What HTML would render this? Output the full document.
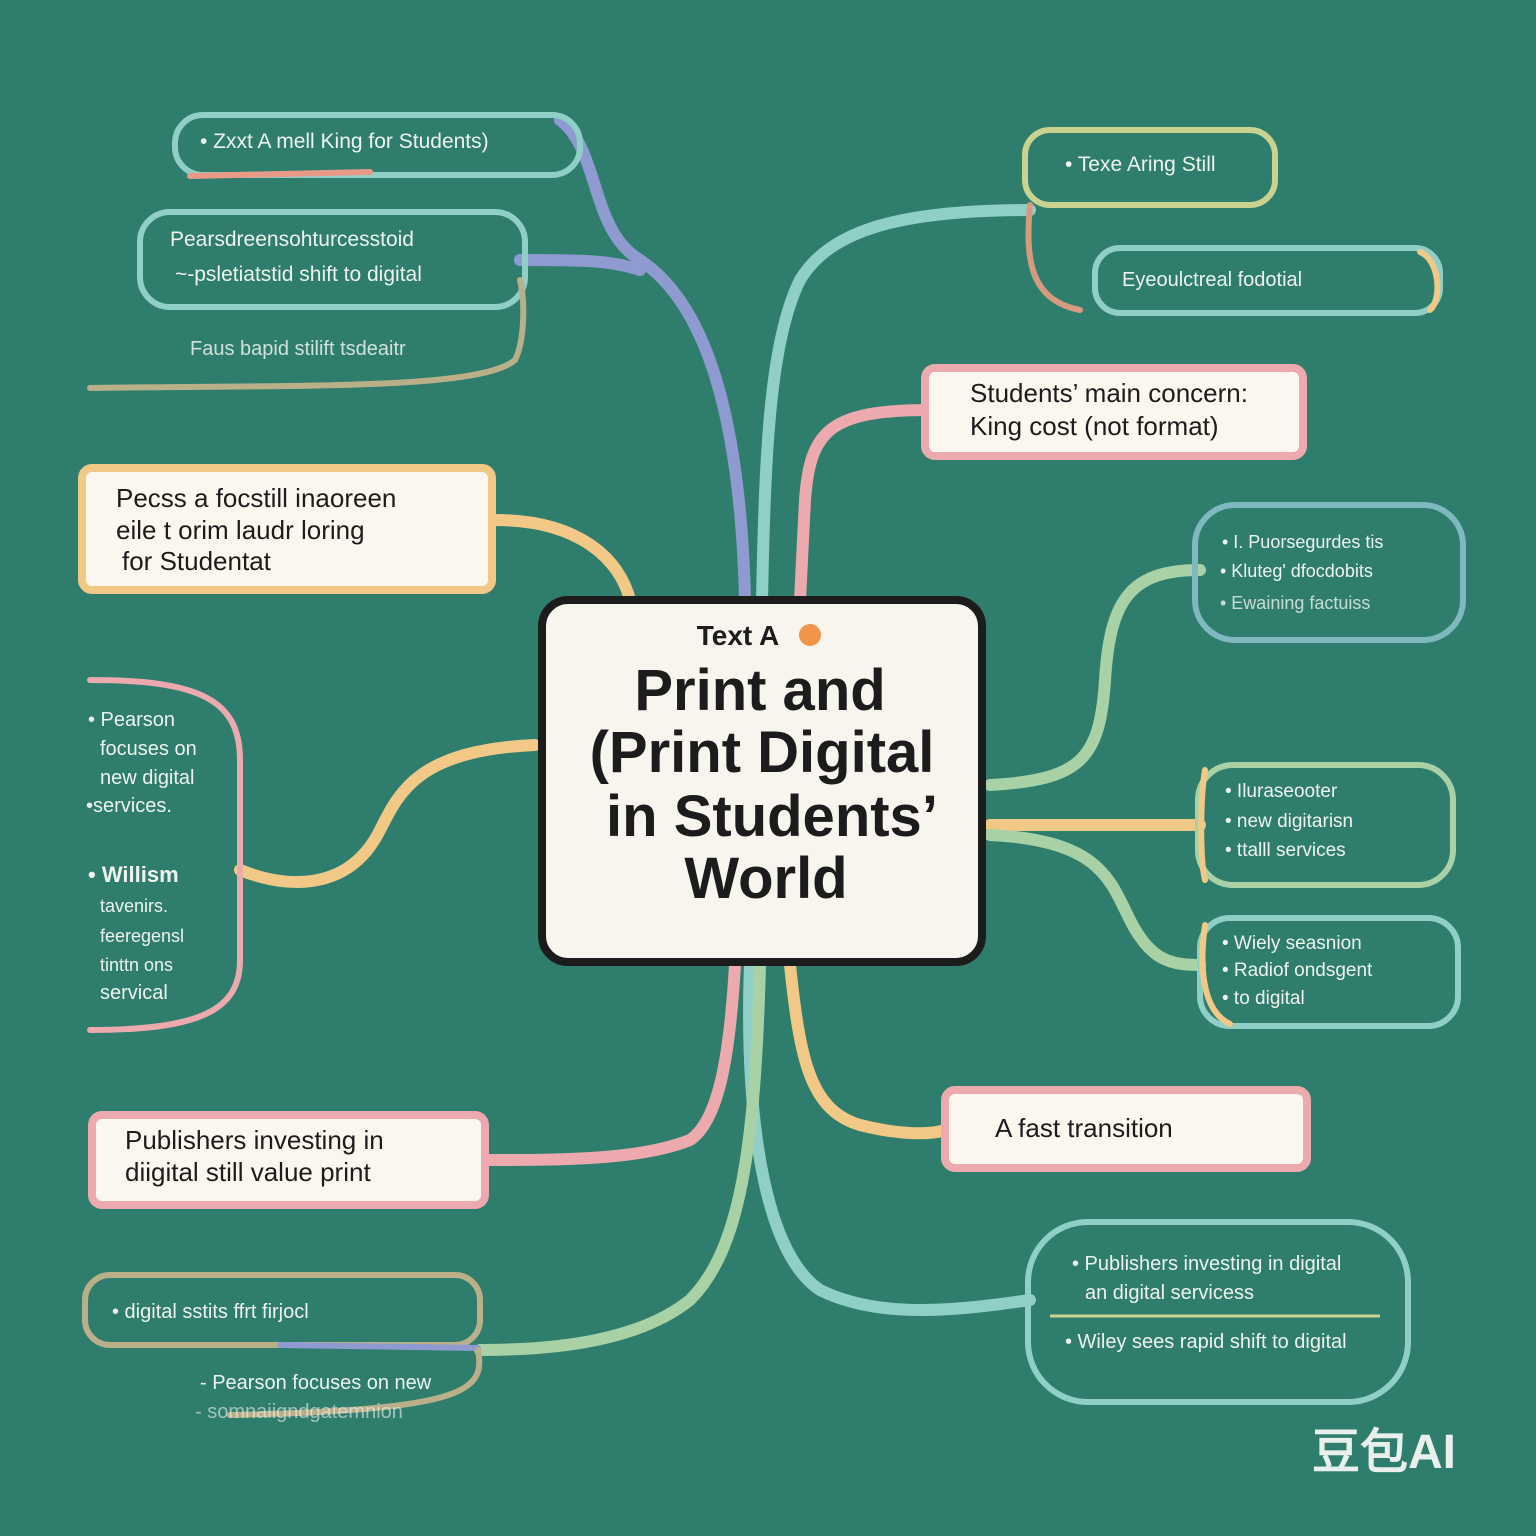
<!DOCTYPE html>
<html><head><meta charset="utf-8"><style>
html,body{margin:0;padding:0;background:#2e7d6d;}
svg{display:block}
text{font-family:"Liberation Sans",sans-serif;}
</style></head><body>
<svg width="1536" height="1536" viewBox="0 0 1536 1536" xmlns="http://www.w3.org/2000/svg">
<rect width="1536" height="1536" fill="#2e7d6d"/>
<g fill="none" stroke-linecap="round" stroke-width="12">
<path d="M560 120 C600 150 590 230 640 260 C700 300 740 400 745 600" stroke="#8f9bd0"/>
<path d="M520 260 C580 260 610 260 640 270" stroke="#8f9bd0"/>
<path d="M1030 210 C900 210 830 230 800 280 C770 340 765 450 762 600" stroke="#8fcfc8"/>
<path d="M930 410 C830 410 810 430 805 500 L800 600" stroke="#eca9ae"/>
<path d="M495 520 C580 520 620 560 630 600" stroke="#f2c886"/>
<path d="M1200 570 C1130 570 1110 600 1105 680 C1100 760 1080 780 990 785" stroke="#a8d2a6"/>
<path d="M990 825 L1200 825" stroke="#f2c886"/>
<path d="M990 835 C1100 840 1110 880 1130 920 C1150 960 1170 965 1200 965" stroke="#a8d2a6"/>
<path d="M535 745 C420 750 400 790 380 830 C350 890 290 890 240 870" stroke="#f2c886"/>
<path d="M735 965 C730 1050 720 1120 690 1140 C640 1160 560 1160 490 1160" stroke="#eca9ae"/>
<path d="M790 965 C800 1060 810 1110 860 1125 C900 1135 930 1135 945 1130" stroke="#f2c886"/>
<path d="M750 965 C745 1100 760 1250 820 1290 C880 1320 960 1310 1030 1300" stroke="#8fcfc8"/>
<path d="M760 965 C755 1150 740 1250 690 1300 C640 1340 560 1350 480 1350" stroke="#a8d2a6"/>
</g>
<g fill="none" stroke-width="6" stroke-linecap="round">
<rect x="175" y="115" width="405" height="60" rx="28" stroke="#8fcfc8"/>
<path d="M190 176 L370 172" stroke="#e99a86"/>
<rect x="140" y="212" width="385" height="95" rx="30" stroke="#8fcfc8"/>
<path d="M90 388 C300 385 480 390 515 360 C525 340 525 300 520 280" stroke="#b9b089"/>
<rect x="1025" y="130" width="250" height="75" rx="25" stroke="#c9d28f"/>
<path d="M1030 205 C1025 260 1030 300 1080 310" stroke="#d69b7e"/>
<rect x="1095" y="248" width="345" height="65" rx="25" stroke="#8fcfc8"/>
<path d="M1420 252 C1440 260 1442 300 1430 310" stroke="#f2c886"/>
<rect x="925" y="368" width="378" height="88" rx="10" fill="#fbf7ef" stroke="#eca9ae" stroke-width="8"/>
<rect x="82" y="468" width="410" height="122" rx="10" fill="#fbf7ef" stroke="#f2c886" stroke-width="8"/>
<rect x="1195" y="505" width="268" height="135" rx="40" stroke="#7fb8bf"/>
<path d="M90 680 C200 680 240 700 240 760 L240 960 C240 1010 200 1030 90 1030" stroke="#eca9ae"/>
<rect x="1198" y="765" width="255" height="120" rx="35" stroke="#a8d2a6"/>
<path d="M1205 770 C1200 800 1200 860 1205 880" stroke="#f2c886"/>
<rect x="1200" y="918" width="258" height="108" rx="30" stroke="#8fcfc8"/>
<path d="M1205 925 C1200 960 1200 1010 1230 1024" stroke="#f2c886"/>
<rect x="92" y="1115" width="393" height="90" rx="10" fill="#fbf7ef" stroke="#eca9ae" stroke-width="8"/>
<rect x="945" y="1090" width="362" height="78" rx="10" fill="#fbf7ef" stroke="#eca9ae" stroke-width="8"/>
<rect x="85" y="1275" width="395" height="70" rx="25" stroke="#b9b089"/>
<path d="M280 1345 L478 1348" stroke="#8f9bd0"/>
<path d="M478 1350 C485 1390 470 1410 230 1415" stroke="#b9b089"/>
<rect x="1028" y="1222" width="380" height="180" rx="60" stroke="#8fcfc8"/>
</g>
<rect x="542" y="600" width="440" height="362" rx="26" fill="#f8f5ee" stroke="#1c1c1c" stroke-width="8"/>
<text x="738" y="645" font-size="28" font-weight="bold" fill="#1c1c1c" text-anchor="middle">Text A</text>
<circle cx="810" cy="635" r="11" fill="#f0964a"/>
<g font-size="58" font-weight="bold" fill="#1c1c1c" text-anchor="middle">
<text x="760" y="710">Print and</text>
<text x="762" y="772">(Print Digital</text>
<text x="772" y="836">in Students’</text>
<text x="766" y="898">World</text>
</g>
<g fill="#eef3ef" font-size="20">
<text x="200" y="148" font-size="21">• Zxxt A  mell King for Students)</text>
<text x="170" y="246" font-size="21">Pearsdreensohturcesstoid</text>
<text x="175" y="281" font-size="21">~-psletiatstid shift to digital</text>
<text x="190" y="355" opacity="0.85">Faus bapid stilift tsdeaitr</text>
<text x="1065" y="171" font-size="21">•  Texe  Aring Still</text>
<text x="1122" y="286">Eyeoulctreal fodotial</text>
<text x="1222" y="548" font-size="18">•  I. Puorsegurdes tis</text>
<text x="1220" y="577" font-size="18">•  Kluteg' dfocdobits</text>
<text x="1220" y="609" font-size="18" opacity="0.8">• Ewaining factuiss</text>
<text x="88" y="726">• Pearson</text>
<text x="100" y="755">focuses on</text>
<text x="100" y="784">new digital</text>
<text x="86" y="812">•services.</text>
<text x="88" y="882" font-weight="bold" font-size="22">• Willism</text>
<text x="100" y="912" font-size="18">tavenirs.</text>
<text x="100" y="942" font-size="18">feeregensl</text>
<text x="100" y="971" font-size="18">tinttn ons</text>
<text x="100" y="999">servical</text>
<text x="1225" y="797" font-size="19">• Iluraseooter</text>
<text x="1225" y="827" font-size="19">• new digitarisn</text>
<text x="1225" y="856" font-size="19">• ttalll services</text>
<text x="1222" y="949" font-size="19">• Wiely seasnion</text>
<text x="1222" y="976" font-size="19">• Radiof ondsgent</text>
<text x="1222" y="1004" font-size="19">• to digital</text>
<text x="112" y="1318">•  digital sstits ffrt firjocl</text>
<text x="200" y="1389">- Pearson focuses on new</text>
<text x="195" y="1418" opacity="0.6">- somnaiigndgatemnion</text>
<text x="1072" y="1270">• Publishers investing in digital</text>
<text x="1085" y="1299">an digital servicess</text>
<text x="1065" y="1348">• Wiley sees rapid shift to digital</text>
</g>
<path d="M1050 1316 L1380 1316" stroke="#c9d28f" stroke-width="3"/>
<g fill="#1c1c1c" font-size="26">
<text x="970" y="402">Students’ main concern:</text>
<text x="970" y="435">King cost  (not format)</text>
<text x="116" y="507">Pecss a focstill inaoreen</text>
<text x="116" y="539">eile t orim laudr loring</text>
<text x="122" y="570">for Studentat</text>
<text x="125" y="1149">Publishers investing in</text>
<text x="125" y="1181">diigital still value  print</text>
<text x="995" y="1137">A fast transition</text>
</g>
<text x="1312" y="1468" font-size="48" font-weight="bold" fill="#e8efec" font-family="Liberation Sans, Noto Sans CJK KR, sans-serif">豆包AI</text>
</svg>
</body></html>
